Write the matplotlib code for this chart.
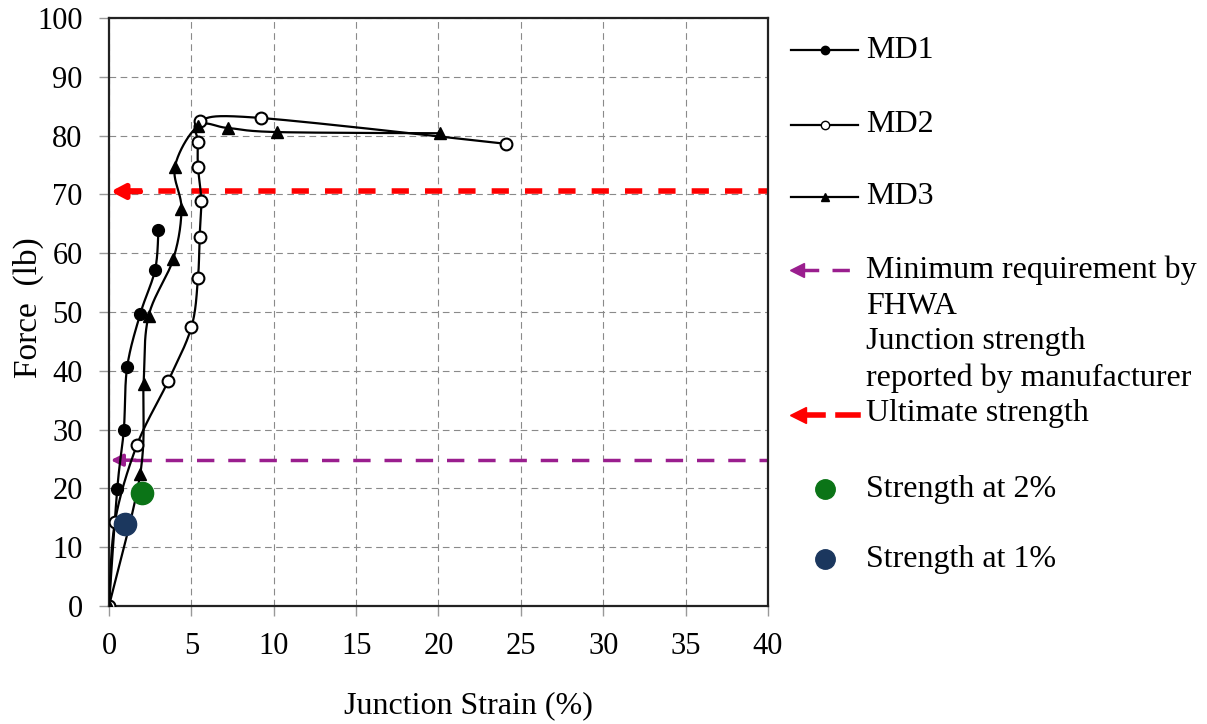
import numpy as np
import matplotlib
matplotlib.use("Agg")
import matplotlib.pyplot as plt
from matplotlib.lines import Line2D

plt.rcParams['font.family'] = ['Liberation Serif', 'DejaVu Serif']

# Junction strain (%) and force (lb) for the three specimens
md1_strain = [0.0, 0.5, 0.9, 1.1, 1.9, 2.8, 3.0]
md1_force = [0.0, 19.9, 30.0, 40.6, 49.7, 57.2, 64.0]

md2_strain = [0.0, 0.36, 1.7, 3.6, 5.0, 5.4, 5.5, 5.6, 5.4, 5.4, 5.5, 9.2, 24.1]
md2_force = [0.0, 14.3, 27.4, 38.3, 47.4, 55.8, 62.8, 68.9, 74.7, 78.9, 82.5, 83.0, 78.6]

md3_strain = [0.0, 1.9, 2.1, 2.4, 3.9, 4.4, 4.0, 5.4, 7.2, 10.2, 20.1]
md3_force = [0.0, 22.5, 37.8, 49.3, 59.0, 67.5, 74.7, 81.6, 81.3, 80.6, 80.4]

# strength at 1% and 2% strain
strength_2pct = (2.0, 19.3)
strength_1pct = (1.0, 14.0)

# reference levels
fhwa_min = 24.8
ultimate = 70.5

XMAX, YMAX = 40, 100
W, H = 1207, 724

PURPLE = '#9a1e8e'
GREEN = '#0b7417'
NAVY = '#1b375e'


def smooth(xs, ys, n=24):
    """Excel-style smoothed line (cardinal bezier) through the points."""
    sx, sy = 659.0 / XMAX, 588.0 / YMAX   # work in pixel-like units
    p = np.column_stack([np.asarray(xs) * sx, np.asarray(ys) * sy])
    ext = np.vstack([p[0], p, p[-1]])
    out = [p[0]]
    t = np.linspace(0, 1, n)[1:, None]
    for i in range(len(p) - 1):
        p0, p1, p2, p3 = ext[i], ext[i + 1], ext[i + 2], ext[i + 3]
        c1 = p1 + (p2 - p0) / 6.0
        c2 = p2 - (p3 - p1) / 6.0
        seg = ((1 - t) ** 3 * p1 + 3 * (1 - t) ** 2 * t * c1
               + 3 * (1 - t) * t ** 2 * c2 + t ** 3 * p2)
        out.extend(seg)
    out = np.array(out)
    return out[:, 0] / sx, out[:, 1] / sy


fig = plt.figure(figsize=(W / 100, H / 100), dpi=100)
ax = fig.add_axes([109 / W, 1 - 606 / H, (768 - 109) / W, (606 - 18) / H])

ax.set_xlim(0, XMAX)
ax.set_ylim(0, YMAX)
ax.set_xticks(np.arange(0, 41, 5))
ax.set_yticks(np.arange(0, 101, 10))
ax.tick_params(direction='out', length=7, width=1, color='#999999',
               labelsize=22, pad=12)
ax.grid(True, color='#8a8a8a', lw=0.8, ls=(0, (6, 4)))
ax.set_axisbelow(True)
for s in ax.spines.values():
    s.set_color('#222222')
    s.set_linewidth(1.6)

ax.set_xlabel('Junction Strain (%)', fontsize=23)
ax.xaxis.set_label_coords(0.545, -0.145)
ax.set_ylabel('Force  (lb)', fontsize=24)
ax.yaxis.set_label_coords(-0.099, 0.507)

# specimen curves
series = [
    (md1_strain, md1_force, dict(marker='o', mfc='black', mec='black', ms=8.5)),
    (md2_strain, md2_force, dict(marker='o', mfc='white', mec='black', ms=8.5, mew=1.5)),
    (md3_strain, md3_force, dict(marker='^', mfc='black', mec='black', ms=8.5)),
]
for xs, ys, mk in series:
    lx, ly = smooth(xs, ys)
    ax.plot(lx, ly, color='black', lw=1.6, zorder=3)
    ax.plot(xs, ys, ls='none', zorder=4, **mk)

# reference lines with arrow heads pointing to the force axis
ax.plot([1.0, XMAX], [ultimate, ultimate], color='red', lw=4.0,
        ls=(0, (3.1, 2.9)), zorder=2, clip_on=False)
ax.annotate('', xy=(0.1, ultimate), xytext=(1.9, ultimate),
            arrowprops=dict(arrowstyle='-|>,head_length=0.8,head_width=0.42',
                            color='red', lw=4.0, shrinkA=0, shrinkB=0), zorder=2)

ax.plot([1.5, XMAX], [fhwa_min, fhwa_min], color=PURPLE, lw=2.5,
        ls=(0, (5.0, 4.0)), zorder=2, clip_on=False)
ax.annotate('', xy=(0.1, fhwa_min), xytext=(1.6, fhwa_min),
            arrowprops=dict(arrowstyle='-|>,head_length=0.7,head_width=0.35',
                            color=PURPLE, lw=2.5, shrinkA=0, shrinkB=0), zorder=2)

ax.plot(*strength_2pct, 'o', color=GREEN, ms=16, zorder=5)
ax.plot(*strength_1pct, 'o', color=NAVY, ms=16, zorder=5)


# legend, laid out in figure pixels
def fx(x):
    return x / W


def fy(y):
    return 1 - y / H


def legend_text(y, s):
    fig.text(fx(866), fy(y), s, fontsize=23, va='center', ha='left')


handle_x = [fx(791), fx(858)]
for y, lab, (_, _, mk) in zip([50, 125, 197], ['MD1', 'MD2', 'MD3'], series):
    fig.add_artist(Line2D(handle_x, [fy(y)] * 2, color='black', lw=1.6))
    mk = dict(mk, ms=6, mew=1.0)
    fig.add_artist(Line2D([fx(825)], [fy(y)], ls='none', **mk))
    legend_text(y, lab)

# FHWA handle
fig.add_artist(Line2D([fx(800), fx(817)], [fy(270)] * 2, color=PURPLE, lw=2.5))
fig.add_artist(Line2D([fx(832), fx(859)], [fy(270)] * 2, color=PURPLE, lw=2.5,
                      ls=(0, (5.0, 4.0))))
fig.add_artist(Line2D([fx(797)], [fy(270)], marker='<', ls='none', color=PURPLE,
                      ms=10))
for i, s in enumerate(['Minimum requirement by', 'FHWA', 'Junction strength',
                       'reported by manufacturer']):
    legend_text(270 + 36 * i, s)

# ultimate handle
fig.add_artist(Line2D([fx(800), fx(823)], [fy(415)] * 2, color='red', lw=4.0))
fig.add_artist(Line2D([fx(838), fx(858)], [fy(415)] * 2, color='red', lw=4.0))
fig.add_artist(Line2D([fx(798)], [fy(415)], marker='<', ls='none', color='red',
                      ms=12))
legend_text(414, 'Ultimate strength')

fig.add_artist(Line2D([fx(825)], [fy(489)], marker='o', ls='none', color=GREEN, ms=14))
legend_text(489, 'Strength at 2%')
fig.add_artist(Line2D([fx(825)], [fy(559)], marker='o', ls='none', color=NAVY, ms=14))
legend_text(559, 'Strength at 1%')

fig.savefig('out.png', dpi=100)
